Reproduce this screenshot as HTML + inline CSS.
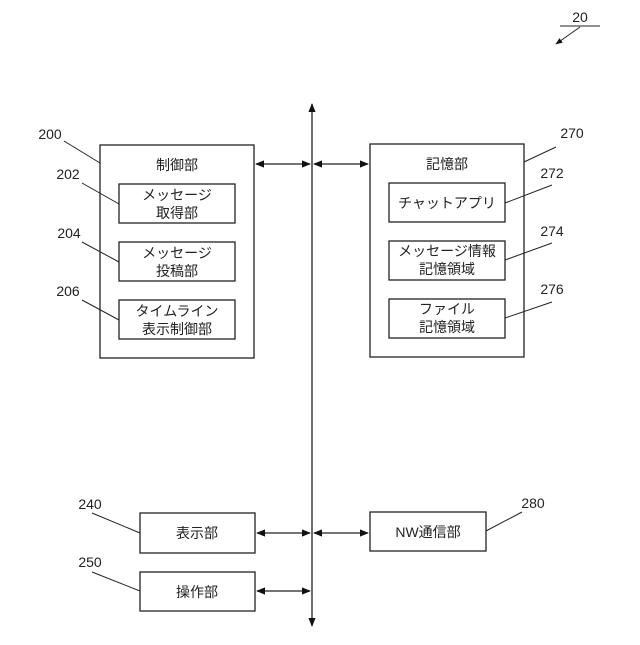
<!DOCTYPE html>
<html><head><meta charset="utf-8"><style>body{margin:0;background:#fff}</style></head><body>
<svg width="640" height="640" viewBox="0 0 640 640" xmlns="http://www.w3.org/2000/svg" font-family="'Liberation Sans','Noto Sans CJK JP',sans-serif" fill="none" stroke="#222" stroke-width="1.3">
<defs><marker id="a" viewBox="0 0 10 10" refX="9" refY="5" markerWidth="7" markerHeight="7" orient="auto-start-reverse"><path d="M0,1 L10,5 L0,9 z" fill="#111" stroke="none"/></marker></defs>
<line x1="312" y1="626" x2="312" y2="104" marker-start="url(#a)" marker-end="url(#a)"/>
<rect x="100" y="145" width="154" height="213"/>
<rect x="119" y="184" width="116" height="39"/>
<rect x="119" y="242" width="116" height="39"/>
<rect x="119" y="300" width="116" height="39"/>
<rect x="370" y="144" width="154" height="213"/>
<rect x="389" y="183" width="116" height="39"/>
<rect x="389" y="241" width="116" height="39"/>
<rect x="389" y="299" width="116" height="39"/>
<rect x="140" y="513" width="115" height="40"/>
<rect x="140" y="572" width="115" height="39"/>
<rect x="370" y="512" width="116" height="39"/>
<g marker-start="url(#a)" marker-end="url(#a)">
<line x1="256" y1="164" x2="310" y2="164"/><line x1="314" y1="164" x2="368" y2="164"/>
<line x1="257" y1="533" x2="310" y2="533"/><line x1="314" y1="533" x2="368" y2="533"/>
<line x1="257" y1="591" x2="310" y2="591"/>
</g>
<g stroke-width="1">
<line x1="64" y1="141" x2="100" y2="163"/>
<line x1="82" y1="183" x2="119" y2="204"/>
<line x1="82" y1="242" x2="119" y2="262"/>
<line x1="82" y1="300" x2="119" y2="320"/>
<line x1="556" y1="147" x2="524" y2="162"/>
<line x1="552" y1="185" x2="505" y2="203"/>
<line x1="552" y1="243" x2="505" y2="260"/>
<line x1="552" y1="302" x2="505" y2="318"/>
<line x1="92" y1="513" x2="140" y2="533"/>
<line x1="92" y1="572" x2="140" y2="591"/>
<line x1="522" y1="512" x2="486" y2="531"/>
<line x1="560" y1="26" x2="600" y2="26"/>
<line x1="580" y1="27" x2="556" y2="44" marker-end="url(#a)"/>
</g>
<g fill="#222" stroke="none" font-size="14" text-anchor="middle">
<text x="177" y="170">制御部</text>
<text x="177" y="200">メッセージ</text><text x="177" y="218">取得部</text>
<text x="177" y="258">メッセージ</text><text x="177" y="276">投稿部</text>
<text x="177" y="316">タイムライン</text><text x="177" y="334">表示制御部</text>
<text x="447" y="169">記憶部</text>
<text x="447" y="208">チャットアプリ</text>
<text x="447" y="256">メッセージ情報</text><text x="447" y="274">記憶領域</text>
<text x="447" y="314">ファイル</text><text x="447" y="332">記憶領域</text>
<text x="197" y="538">表示部</text>
<text x="197" y="597">操作部</text>
<text x="428" y="537">NW通信部</text>
<text x="50" y="139">200</text><text x="68" y="179">202</text><text x="69" y="238">204</text><text x="68" y="296">206</text>
<text x="572" y="138">270</text><text x="552" y="178">272</text><text x="552" y="236">274</text><text x="552" y="294">276</text>
<text x="90" y="509">240</text><text x="90" y="567">250</text><text x="533" y="508">280</text>
<text x="580" y="22">20</text>
</g>
</svg>
</body></html>
